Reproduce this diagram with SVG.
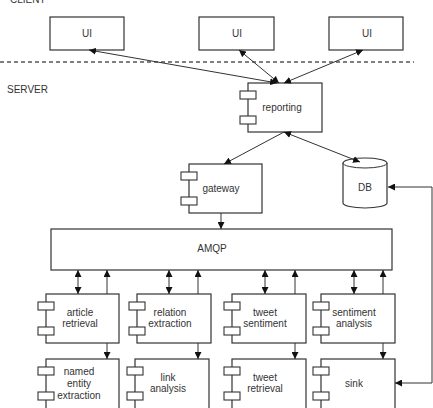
<svg xmlns="http://www.w3.org/2000/svg" width="433" height="408" viewBox="0 0 433 408">
  <style>
    .box { fill: #fff; stroke: #333; stroke-width: 1.2; }
    .tab { fill: #fff; stroke: #333; stroke-width: 1.1; }
    .lbl { font-family: "Liberation Sans", Arial, sans-serif; font-size: 10px; fill: #333; text-anchor: middle; }
    .zone { font-family: "Liberation Sans", Arial, sans-serif; font-size: 10px; fill: #333; }
    .edge { fill: none; stroke: #333; stroke-width: 1; }
    .one { marker-end: url(#head); }
    .two { marker-start: url(#head); marker-end: url(#head); }
  </style>
  <defs>
    <marker id="head" viewBox="0 0 8 8" refX="8" refY="4" markerWidth="7" markerHeight="7" markerUnits="userSpaceOnUse" orient="auto-start-reverse">
      <path d="M0,0 L8,4 L0,8 Z" fill="#111"/>
    </marker>
  </defs>
  <rect width="433" height="408" fill="#fff"/>

  <!-- zone labels and boundary -->
  <text class="zone" x="10" y="3">CLIENT</text>
  <line x1="0" y1="62" x2="414" y2="62" stroke="#555" stroke-width="1.3" stroke-dasharray="4 3"/>
  <text class="zone" x="7" y="93">SERVER</text>

  <!-- client UIs -->
  <g id="ui1"><rect class="box" x="50" y="17" width="74" height="33"/><text class="lbl" x="87" y="37">UI</text></g>
  <g id="ui2"><rect class="box" x="199" y="17" width="75" height="33"/><text class="lbl" x="237" y="37">UI</text></g>
  <g id="ui3"><rect class="box" x="329" y="17" width="74" height="33"/><text class="lbl" x="367" y="37">UI</text></g>

  <!-- server components -->
  <g id="reporting">
    <rect class="box" x="248" y="83" width="74" height="49"/>
    <rect class="tab" x="240" y="91" width="16" height="8"/><rect class="tab" x="240" y="116" width="16" height="8"/>
    <text class="lbl" x="282" y="111">reporting</text>
  </g>
  <g id="gateway">
    <rect class="box" x="189" y="164" width="73" height="49"/>
    <rect class="tab" x="181" y="172" width="16" height="8"/><rect class="tab" x="181" y="197" width="16" height="8"/>
    <text class="lbl" x="221" y="192">gateway</text>
  </g>
  <g id="db">
    <path class="box" d="M343,163 A22,5 0 0 1 387,163 V203 A22,5 0 0 1 343,203 Z"/>
    <path class="edge" d="M343,163 A22,5 0 0 0 387,163" stroke-width="1.2"/>
    <text class="lbl" x="365" y="191">DB</text>
  </g>
  <g id="amqp">
    <rect class="box" x="51" y="229" width="341" height="41"/>
    <text class="lbl" x="212" y="252">AMQP</text>
  </g>

  <g id="article-retrieval">
    <rect class="box" x="46" y="294" width="73" height="49"/>
    <rect class="tab" x="38" y="302" width="16" height="8"/><rect class="tab" x="38" y="327" width="16" height="8"/>
    <text class="lbl" x="80" y="316">article</text><text class="lbl" x="80" y="327">retrieval</text>
  </g>
  <g id="relation-extraction">
    <rect class="box" x="137" y="294" width="74" height="49"/>
    <rect class="tab" x="129" y="302" width="16" height="8"/><rect class="tab" x="129" y="327" width="16" height="8"/>
    <text class="lbl" x="170" y="316">relation</text><text class="lbl" x="170" y="327">extraction</text>
  </g>
  <g id="tweet-sentiment">
    <rect class="box" x="232" y="294" width="74" height="49"/>
    <rect class="tab" x="224" y="302" width="16" height="8"/><rect class="tab" x="224" y="327" width="16" height="8"/>
    <text class="lbl" x="265" y="316">tweet</text><text class="lbl" x="265" y="327">sentiment</text>
  </g>
  <g id="sentiment-analysis">
    <rect class="box" x="321" y="294" width="74" height="49"/>
    <rect class="tab" x="313" y="302" width="16" height="8"/><rect class="tab" x="313" y="327" width="16" height="8"/>
    <text class="lbl" x="354" y="316">sentiment</text><text class="lbl" x="354" y="327">analysis</text>
  </g>

  <g id="named-entity-extraction">
    <rect class="box" x="46" y="359" width="73" height="51"/>
    <rect class="tab" x="38" y="367" width="16" height="8"/><rect class="tab" x="38" y="392" width="16" height="8"/>
    <text class="lbl" x="79" y="375">named</text><text class="lbl" x="79" y="387">entity</text><text class="lbl" x="79" y="399">extraction</text>
  </g>
  <g id="link-analysis">
    <rect class="box" x="135" y="359" width="74" height="51"/>
    <rect class="tab" x="127" y="367" width="16" height="8"/><rect class="tab" x="127" y="392" width="16" height="8"/>
    <text class="lbl" x="168" y="381">link</text><text class="lbl" x="168" y="392">analysis</text>
  </g>
  <g id="tweet-retrieval">
    <rect class="box" x="232" y="359" width="74" height="51"/>
    <rect class="tab" x="224" y="367" width="16" height="8"/><rect class="tab" x="224" y="392" width="16" height="8"/>
    <text class="lbl" x="265" y="381">tweet</text><text class="lbl" x="265" y="392">retrieval</text>
  </g>
  <g id="sink">
    <rect class="box" x="321" y="359" width="74" height="51"/>
    <rect class="tab" x="313" y="367" width="16" height="8"/><rect class="tab" x="313" y="392" width="16" height="8"/>
    <text class="lbl" x="354" y="387">sink</text>
  </g>

  <!-- connectors -->
  <g id="connectors">
    <line class="edge two" x1="89" y1="50" x2="277" y2="83"/>
    <line class="edge two" x1="239" y1="50" x2="279" y2="83"/>
    <line class="edge two" x1="363" y1="50" x2="284" y2="83"/>
    <line class="edge one" x1="284" y1="132" x2="224" y2="164"/>
    <line class="edge two" x1="284" y1="132" x2="360" y2="162"/>
    <line class="edge one" x1="221" y1="213" x2="221" y2="229"/>
    <path class="edge two" d="M388,187 H432 V383 H395"/>

    <line class="edge two" x1="78" y1="270" x2="78" y2="294"/>
    <line class="edge two" x1="169" y1="270" x2="169" y2="294"/>
    <line class="edge two" x1="265" y1="270" x2="265" y2="294"/>
    <line class="edge two" x1="354" y1="270" x2="354" y2="294"/>
    <line class="edge one" x1="107" y1="294" x2="107" y2="270"/>
    <line class="edge one" x1="198" y1="294" x2="198" y2="270"/>
    <line class="edge one" x1="295" y1="294" x2="295" y2="270"/>
    <line class="edge one" x1="383" y1="294" x2="383" y2="270"/>

    <line class="edge one" x1="107" y1="343" x2="107" y2="359"/>
    <line class="edge one" x1="198" y1="343" x2="198" y2="359"/>
    <line class="edge one" x1="295" y1="343" x2="295" y2="359"/>
    <line class="edge one" x1="383" y1="343" x2="383" y2="359"/>
  </g>
</svg>
